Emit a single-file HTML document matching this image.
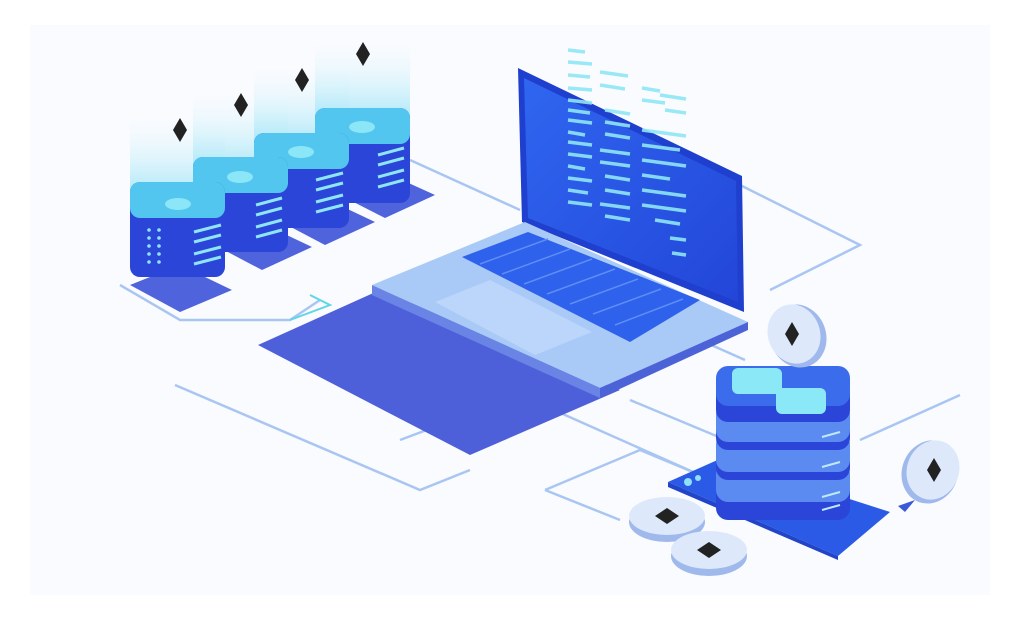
<!DOCTYPE html>
<html><head><meta charset="utf-8"><style>html,body{margin:0;padding:0;background:#fff}svg{display:block}</style></head><body>
<svg width="1026" height="624" viewBox="0 0 1026 624" xmlns="http://www.w3.org/2000/svg">
<defs>
<linearGradient id="glow" x1="0" y1="1" x2="0" y2="0"><stop offset="0" stop-color="#7fdcf5" stop-opacity="0.8"/><stop offset="1" stop-color="#e6f8fd" stop-opacity="0"/></linearGradient>
<linearGradient id="scr" x1="0" y1="0" x2="1" y2="1"><stop offset="0" stop-color="#2f66f0"/><stop offset="1" stop-color="#2346d8"/></linearGradient>
</defs>
<rect width="1026" height="624" fill="#fff"/>
<rect x="30" y="25" width="960" height="570" fill="#fafbfe"/>
<g fill="none" stroke="#a9c6f2" stroke-width="2.5">
<polyline points="120,285 180,320 290,320 320,300"/>
<polyline points="175,385 420,490 470,470"/>
<polyline points="400,440 520,395 700,475"/>
<polyline points="545,490 640,450 700,475"/>
<polyline points="545,490 620,520"/>
<polyline points="740,185 860,245 770,290"/>
<polyline points="860,440 960,395"/>
<polyline points="630,400 750,450"/>
<polyline points="410,160 520,210"/>
<polyline points="700,340 745,360"/>
</g>
<polyline points="290,320 330,305 310,295" fill="none" stroke="#5fd6e8" stroke-width="2"/>
<polygon points="258,345 380,290 620,390 470,455" fill="#4d60da"/>
<rect x="315" y="40" width="95" height="90" fill="url(#glow)"/>
<rect x="254" y="65" width="95" height="90" fill="url(#glow)"/>
<rect x="193" y="90" width="95" height="90" fill="url(#glow)"/>
<rect x="130" y="115" width="95" height="90" fill="url(#glow)"/>
<polygon points="330,190 380,170 435,195 385,218" fill="#4e63dc"/>
<rect x="315" y="108" width="95" height="95" rx="10" fill="#2a45d8"/>
<rect x="315" y="108" width="95" height="36" rx="10" fill="#53c6ef"/>
<ellipse cx="362" cy="127" rx="13" ry="6" fill="#8be6f8"/>
<g stroke="#8ee5f6" stroke-width="3"><line x1="378" y1="155" x2="404" y2="148"/><line x1="378" y1="165" x2="404" y2="158"/><line x1="378" y1="177" x2="404" y2="170"/><line x1="378" y1="187" x2="404" y2="180"/></g>
<polygon points="268,215 318,195 375,222 325,245" fill="#4e63dc"/>
<rect x="254" y="133" width="95" height="95" rx="10" fill="#2a45d8"/>
<rect x="254" y="133" width="95" height="36" rx="10" fill="#53c6ef"/>
<ellipse cx="301" cy="152" rx="13" ry="6" fill="#8be6f8"/>
<g stroke="#8ee5f6" stroke-width="3"><line x1="316" y1="180" x2="343" y2="173"/><line x1="316" y1="190" x2="343" y2="183"/><line x1="316" y1="202" x2="343" y2="195"/><line x1="316" y1="212" x2="343" y2="205"/></g>
<polygon points="205,240 255,220 312,247 262,270" fill="#4e63dc"/>
<rect x="193" y="157" width="95" height="95" rx="10" fill="#2a45d8"/>
<rect x="193" y="157" width="95" height="36" rx="10" fill="#53c6ef"/>
<ellipse cx="240" cy="177" rx="13" ry="6" fill="#8be6f8"/>
<g stroke="#8ee5f6" stroke-width="3"><line x1="256" y1="205" x2="282" y2="198"/><line x1="256" y1="215" x2="282" y2="208"/><line x1="256" y1="227" x2="282" y2="220"/><line x1="256" y1="237" x2="282" y2="230"/></g>
<polygon points="130,285 180,265 232,290 180,312" fill="#4e63dc"/>
<rect x="130" y="182" width="95" height="95" rx="10" fill="#2a45d8"/>
<rect x="130" y="182" width="95" height="36" rx="10" fill="#53c6ef"/>
<ellipse cx="178" cy="204" rx="13" ry="6" fill="#8be6f8"/>
<g stroke="#8ee5f6" stroke-width="3"><line x1="194" y1="232" x2="221" y2="225"/><line x1="194" y1="242" x2="221" y2="235"/><line x1="194" y1="254" x2="221" y2="247"/><line x1="194" y1="264" x2="221" y2="257"/></g>
<g fill="#8ee5f6"><circle cx="149" cy="230" r="1.8"/><circle cx="159" cy="230" r="1.8"/><circle cx="149" cy="238" r="1.8"/><circle cx="159" cy="238" r="1.8"/><circle cx="149" cy="246" r="1.8"/><circle cx="159" cy="246" r="1.8"/><circle cx="149" cy="254" r="1.8"/><circle cx="159" cy="254" r="1.8"/><circle cx="149" cy="262" r="1.8"/><circle cx="159" cy="262" r="1.8"/></g>
<g fill="#222">
<polygon points="180,118 187,130 180,142 173,130"/>
<polygon points="241,93 248,105 241,117 234,105"/>
<polygon points="302,68 309,80 302,92 295,80"/>
<polygon points="363,42 370,54 363,66 356,54"/>
</g>
<!-- laptop screen -->
<polygon points="518,68 742,176 744,312 522,222" fill="#1f3fcf"/>
<polygon points="524,78 736,181 738,302 528,218" fill="url(#scr)"/>
<g stroke="#8fe6f6" stroke-width="3.5" opacity="0.9">
<line x1="568" y1="50" x2="585" y2="52"/><line x1="568" y1="62" x2="592" y2="64"/><line x1="568" y1="75" x2="590" y2="77"/><line x1="568" y1="88" x2="592" y2="90"/>
<line x1="568" y1="100" x2="592" y2="103"/><line x1="568" y1="110" x2="590" y2="113"/><line x1="568" y1="120" x2="592" y2="123"/><line x1="568" y1="132" x2="585" y2="135"/><line x1="568" y1="142" x2="592" y2="145"/><line x1="568" y1="154" x2="592" y2="157"/><line x1="568" y1="166" x2="585" y2="169"/><line x1="568" y1="178" x2="592" y2="181"/><line x1="568" y1="190" x2="588" y2="193"/><line x1="568" y1="202" x2="592" y2="205"/>
<line x1="600" y1="72" x2="628" y2="76"/><line x1="600" y1="85" x2="625" y2="89"/><line x1="605" y1="110" x2="630" y2="114"/><line x1="605" y1="122" x2="630" y2="126"/><line x1="605" y1="134" x2="630" y2="138"/><line x1="600" y1="150" x2="630" y2="154"/><line x1="600" y1="162" x2="630" y2="166"/><line x1="605" y1="176" x2="630" y2="180"/><line x1="605" y1="190" x2="630" y2="194"/><line x1="600" y1="204" x2="630" y2="208"/><line x1="605" y1="216" x2="630" y2="220"/>
<line x1="642" y1="88" x2="660" y2="91"/><line x1="642" y1="100" x2="665" y2="103"/><line x1="660" y1="95" x2="686" y2="99"/><line x1="665" y1="110" x2="686" y2="113"/><line x1="642" y1="130" x2="686" y2="136"/><line x1="642" y1="145" x2="680" y2="150"/><line x1="642" y1="160" x2="686" y2="166"/><line x1="642" y1="175" x2="670" y2="179"/><line x1="642" y1="190" x2="686" y2="196"/><line x1="642" y1="205" x2="686" y2="211"/><line x1="655" y1="220" x2="680" y2="224"/><line x1="670" y1="238" x2="686" y2="240"/><line x1="672" y1="253" x2="686" y2="255"/>
</g>
<!-- laptop base -->
<polygon points="372,285 525,222 748,322 600,388" fill="#a9c9f7"/>
<polygon points="372,285 600,388 600,398 372,295" fill="#6a84e6"/>
<polygon points="600,388 748,322 748,330 600,398" fill="#4c63d8"/>
<polygon points="462,257 528,232 700,300 630,342" fill="#2e61ec"/>
<g stroke="#5d8df5" stroke-width="1.5">
<line x1="480" y1="264" x2="548" y2="239"/><line x1="502" y1="274" x2="570" y2="249"/><line x1="524" y1="284" x2="592" y2="259"/><line x1="547" y1="294" x2="615" y2="269"/><line x1="570" y1="304" x2="638" y2="279"/><line x1="593" y1="314" x2="661" y2="289"/><line x1="615" y1="325" x2="683" y2="299"/>
</g>
<polygon points="435,302 490,280 592,332 535,355" fill="#bcd6fb"/>
<polygon points="668,482 722,458 890,512 838,556" fill="#2a5ae6"/>
<polygon points="668,482 838,556 838,560 668,487" fill="#2244c8"/>
<circle cx="688" cy="482" r="4" fill="#8fe0f8"/><circle cx="698" cy="478" r="3" fill="#8fe0f8"/>
<rect x="716" y="470" width="134" height="50" rx="12" fill="#2a45d8"/>
<rect x="716" y="462" width="134" height="40" rx="12" fill="#5b8bf0"/>
<rect x="716" y="440" width="134" height="40" rx="12" fill="#2a45d8"/>
<rect x="716" y="432" width="134" height="40" rx="12" fill="#5b8bf0"/>
<rect x="716" y="410" width="134" height="40" rx="12" fill="#2a45d8"/>
<rect x="716" y="402" width="134" height="40" rx="12" fill="#5b8bf0"/>
<rect x="716" y="382" width="134" height="40" rx="12" fill="#2a45d8"/>
<rect x="716" y="366" width="134" height="40" rx="12" fill="#3b6cec"/>
<rect x="732" y="368" width="50" height="26" rx="6" fill="#8be8f6"/>
<rect x="776" y="388" width="50" height="26" rx="6" fill="#8be8f6"/>
<g stroke="#bfe9fb" stroke-width="2"><line x1="822" y1="437" x2="840" y2="432"/><line x1="822" y1="467" x2="840" y2="462"/><line x1="822" y1="497" x2="840" y2="492"/><line x1="822" y1="510" x2="840" y2="505"/></g>
<ellipse cx="798" cy="336" rx="28" ry="32" fill="#9fb9ec" transform="rotate(-20 798 336)"/>
<ellipse cx="794" cy="334" rx="26" ry="30" fill="#dde9fb" transform="rotate(-20 794 334)"/>
<polygon points="792,322 799,334 792,346 785,334" fill="#222"/>
<ellipse cx="930" cy="472" rx="28" ry="32" fill="#9fb9ec" transform="rotate(20 930 472)"/>
<ellipse cx="933" cy="470" rx="26" ry="30" fill="#dde9fb" transform="rotate(20 933 470)"/>
<polygon points="934,458 941,470 934,482 927,470" fill="#222"/>
<polygon points="898,506 915,500 905,512" fill="#3a59d8"/>
<ellipse cx="667" cy="522" rx="38" ry="20" fill="#9fb9ec"/>
<ellipse cx="667" cy="516" rx="38" ry="19" fill="#dde9fb"/>
<polygon points="667,508 679,516 667,524 655,516" fill="#222"/>
<ellipse cx="709" cy="556" rx="38" ry="20" fill="#9fb9ec"/>
<ellipse cx="709" cy="550" rx="38" ry="19" fill="#dde9fb"/>
<polygon points="709,542 721,550 709,558 697,550" fill="#222"/>
</svg>
</body></html>
